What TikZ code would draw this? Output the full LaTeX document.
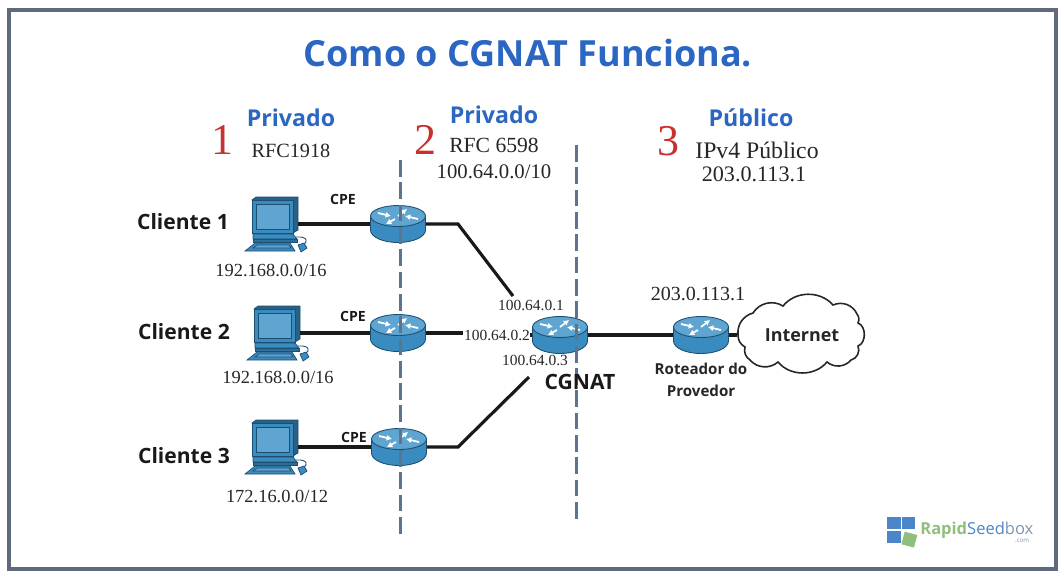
\documentclass[tikz,border=0pt]{standalone}
\usepackage{xcolor}
\usepackage{fontspec}
\setmainfont{Open Sans}
\newfontfamily\notefont{Liberation Serif}
\usepackage{tikz}
\usetikzlibrary{arrows.meta}

\definecolor{framegray}{HTML}{5F6B7C}
\definecolor{titleblue}{HTML}{2B67C2}
\definecolor{numred}{HTML}{C8312F}
\definecolor{dashblue}{HTML}{5E738E}
\definecolor{devblue}{HTML}{3A8BC0}
\definecolor{devdark}{HTML}{1D4F70}
\definecolor{devlight}{HTML}{5FA5D2}
\definecolor{logoblue}{HTML}{4A86C8}
\definecolor{logogreen}{HTML}{8FBF7A}
\definecolor{logogray}{HTML}{7F93B0}

\tikzset{
	heading/.style={font=\bfseries\fontsize{13.2}{14}\selectfont, text=titleblue},
	num/.style={font=\notefont\fontsize{25}{25}\selectfont, text=numred},
	note/.style={font=\notefont\fontsize{12.3}{13}\selectfont, text=black!85},
	addr/.style={font=\notefont\fontsize{10.5}{11}\selectfont, text=black!85},
	smalladdr/.style={font=\notefont\fontsize{8.8}{9}\selectfont, text=black!85, inner sep=0pt},
	client/.style={font=\bfseries\fontsize{12}{12}\selectfont, text=black!90},
	cpelabel/.style={font=\bfseries\fontsize{8}{8}\selectfont, text=black!90},
	devlabel/.style={font=\bfseries\fontsize{8.6}{12.4}\selectfont, text=black!85, align=center},
	link/.style={line width=1.8pt, black!90},
	boundary/.style={line width=1.7pt, dashblue, dash pattern=on 9.5pt off 3.2pt},
	pics/router/.style={code={
		\node[minimum width=55*0.02cm, minimum height=38*0.02cm, inner sep=0pt] (-box) at (0,0) {};
		\draw[devdark, line width=0.5pt, fill=devblue] (-27.5,-8) -- (-27.5,6) arc[x radius=27.5, y radius=12.5, start angle=180, end angle=0] -- (27.5,-8) -- cycle;
		\draw[devdark, line width=0.5pt, fill=devlight] (0,-8) ellipse[x radius=27.5, y radius=10.5];
		\foreach \a/\b/\c/\d in {-20/-11/-7/-8, 0/-8/9/-15, -3/-5/-12/0, 20/-5/7/-8}
			\draw[white, line width=1pt, -{Latex[length=3pt,width=3.5pt]}] (\a,\b) -- (\c,\d);
	}},
	pics/computer/.style={code={
		\node[minimum width=46*0.02cm, minimum height=26*0.02cm, inner sep=0pt] (-box) at (0,0) {};
		\begin{scope}[devdark, line width=0.4pt]
			% monitor, side face first
			\draw[fill=devblue!70!black] (-23,-24) -- (-19,-27) -- (23,-27) -- (23,6) -- (18,9) -- cycle;
			\draw[fill=devblue] (-23,-24) rectangle (18,9);
			\draw[fill=devlight] (-19,-20) rectangle (14,5);
			% base and keyboard
			\draw[fill=devblue] (-22,10) -- (18,10) -- (22,15) -- (-22,15) -- cycle;
			\draw[fill=devblue!80!black] (-22,15) rectangle (22,18);
			\draw[fill=devblue] (-20,19) -- (15,19) -- (20,27) -- (-30,27) -- cycle;
			\draw[fill=devlight] (-18,21) -- (14,21) -- (16,24) -- (-22,24) -- cycle;
			% mouse
			\draw[line width=0.5pt] (21,13) .. controls (34,12) and (32,19) .. (29,20);
			\draw[fill=devblue] (23,21) -- (29,19) -- (32,24) -- (26,28) -- cycle;
		\end{scope}
	}},
}

\begin{document}
\begin{tikzpicture}[x=0.02cm, y=-0.02cm]
	\useasboundingbox (0,0) rectangle (1060,576);
	\draw[framegray, line width=2.4pt] (9,10) rectangle (1056,569);

	\node[font=\bfseries\fontsize{20.5}{22}\selectfont, text=titleblue] (title) at (528,53) {Como o CGNAT Funciona.};

	% the three zones
	\node[heading] (zoneA) at (291,118) {Privado};
	\node[heading] (zoneB) at (494,115) {Privado};
	\node[heading] (zoneC) at (751,118) {Público};
	\foreach \n/\x/\y in {1/222/140, 2/425/140, 3/668/141}
		\node[num] (num\n) at (\x,\y) {\n};
	\node[note, font=\notefont\fontsize{11.5}{12}\selectfont] (rfcA) at (291,151) {RFC1918};
	\node[note] (rfcB) at (494,145) {RFC 6598};
	\node[note, font=\notefont\fontsize{13.5}{14}\selectfont] (rfcC) at (757,150) {IPv4 Público};
	\node[addr, font=\notefont\fontsize{11.8}{12}\selectfont] (netB) at (494,172) {100.64.0.0/10};
	\node[addr, font=\notefont\fontsize{12.6}{13}\selectfont] (netC) at (754,174) {203.0.113.1};

	% clients
	\foreach \i/\x/\y/\cx/\cy/\rx/\ry/\net/\nx/\ny/\lx/\ly in {
		1/183/222/275/224/398/224/192.168.0.0\slash 16/271/270/343/199,
		2/184/332/277/333/398/333/192.168.0.0\slash 16/278/377/353/316,
		3/184/456/275/447/399/447/172.16.0.0\slash 12/277/496/354/437}
	{
		\node[client] (client\i) at (\x,\y) {Cliente \i};
		\pic (pc\i) at (\cx,\cy) {computer};
		\pic (cpe\i) at (\rx,\ry) {router};
		\node[addr] (net\i) at (\nx,\ny) {\net};
		\node[cpelabel] (cpelabel\i) at (\lx,\ly) {CPE};
		\draw[link] (pc\i-box.east) -- (cpe\i-box.west);
	}

	\pic (cgnat) at (560,335) {router};
	\pic (provider) at (701,335) {router};

	% cloud
	\draw[black!85, line width=0.9pt, fill=white] (738,335) to[bend left=40] (753,313) to[bend left=45] (783,306) to[bend left=50] (833,305) to[bend left=45] (857,314) to[bend left=30] (858,323) to[bend left=70] (858,346) to[bend left=50] (851,360) to[bend left=45] (827,362) to[bend left=50] (778,362) to[bend left=45] (750,360) to[bend left=35] (745,347) to[bend left=30] (738,335) -- cycle;
	\node[font=\bfseries\fontsize{10.2}{11}\selectfont, text=black!85, minimum width=130*0.02cm, inner sep=0pt] (internet) at (802,335) {Internet};

	% addresses at the cgnat
	\node[smalladdr] (ipA) at (531,305) {100.64.0.1};
	\node[smalladdr] (ipB) at (497,335) {100.64.0.2};
	\node[smalladdr] (ipC) at (535,360) {100.64.0.3};
	\node[addr, font=\notefont\fontsize{11.4}{12}\selectfont] (ipProv) at (698,294) {203.0.113.1};

	\coordinate (bendA) at (458,224);
	\coordinate (endA) at (513,296);
	\coordinate (endB) at (463,333);
	\coordinate (bendC) at (458,447);
	\coordinate (endC) at (529,377);
	\draw[link] (cpe1-box.east) -- (bendA) -- (endA);
	\draw[link] (cpe2-box.east) -- (endB);
	\draw[link] (cpe3-box.east) -- (bendC) -- (endC);
	\draw[link] (ipB.east) -- (cgnat-box.west);
	\draw[link, line width=2.4pt] (cgnat-box.east) -- (provider-box.west);
	\draw[link] (provider-box.east) -- (internet.west);

	% zone boundaries go over the routers
	\coordinate (lineAtop) at (400,160);
	\coordinate (lineAend) at (400,537);
	\coordinate (lineBtop) at (576,145);
	\coordinate (lineBend) at (576,523);
	\draw[boundary] (lineAtop) -- (lineAend);
	\draw[boundary] (lineBtop) -- (lineBend);

	\node[font=\bfseries\fontsize{12}{12}\selectfont, text=black!90] (cgnatlabel) at (580,382) {CGNAT};
	\node[devlabel] (provlabel) at (701,380) {Roteador do\\Provedor};

	% logo
	\fill[logoblue] (887,517) rectangle (901,529);
	\fill[logoblue] (902,517) rectangle (915,529);
	\fill[logoblue] (887,531) rectangle (901,543);
	\fill[logogreen, rotate around={-15:(909,539)}] (903,533) rectangle (916,546);
	\node[font=\fontsize{9.4}{10}\selectfont, inner sep=0pt, anchor=west] (logotext) at (920,530) {\textcolor{logogreen}{\bfseries Rapid}\textcolor{logoblue}{Seed}\textcolor{logogray}{box}};
	\node[font=\fontsize{3.5}{4}\selectfont, text=logogray, inner sep=0pt] (logocom) at (1022,541) {.com};
\end{tikzpicture}
\end{document}
